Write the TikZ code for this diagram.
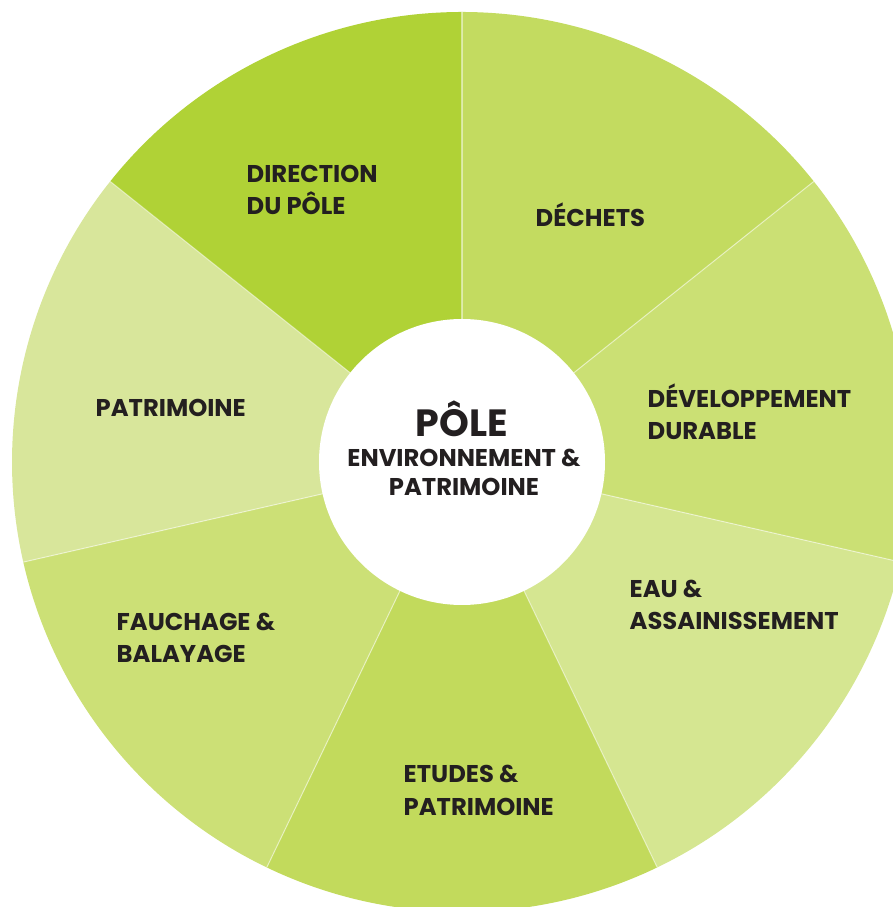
\documentclass[tikz,border=0pt]{standalone}
\usepackage{fontspec}
\setmainfont{Poppins}
\usepackage{tikz}
\usetikzlibrary{positioning}
\usepackage{xcolor}

\definecolor{dirgreen}{RGB}{176,210,54}
\definecolor{dechgreen}{RGB}{195,219,96}
\definecolor{devgreen}{RGB}{203,224,116}
\definecolor{eaugreen}{RGB}{213,230,145}
\definecolor{etugreen}{RGB}{194,218,92}
\definecolor{faugreen}{RGB}{204,224,118}
\definecolor{patgreen}{RGB}{216,230,155}
\definecolor{textgray}{RGB}{35,31,32}

\begin{document}
\begin{tikzpicture}[
    label/.style={anchor=base west,align=left,inner sep=0pt,text=textgray,
        font=\bfseries\fontsize{6.9}{9.2}\selectfont},
    sep/.style={white,opacity=0.5,line width=0.3pt}]
        \useasboundingbox (-4.62,-4.45) rectangle (4.31,4.62);
        % sectors, clockwise from the top
        \fill[dechgreen] (0,0) -- (90:4.5) arc[start angle=90, end angle=38.571, radius=4.5] -- cycle;
        \fill[devgreen] (0,0) -- (38.571:4.5) arc[start angle=38.571, end angle=-12.857, radius=4.5] -- cycle;
        \fill[eaugreen] (0,0) -- (-12.857:4.5) arc[start angle=-12.857, end angle=-64.286, radius=4.5] -- cycle;
        \fill[etugreen] (0,0) -- (-64.286:4.5) arc[start angle=-64.286, end angle=-115.714, radius=4.5] -- cycle;
        \fill[faugreen] (0,0) -- (-115.714:4.5) arc[start angle=-115.714, end angle=-167.143, radius=4.5] -- cycle;
        \fill[patgreen] (0,0) -- (-167.143:4.5) arc[start angle=-167.143, end angle=-218.571, radius=4.5] -- cycle;
        \fill[dirgreen] (0,0) -- (141.429:4.5) arc[start angle=141.429, end angle=90, radius=4.5] -- cycle;
        \draw[sep] (0,0) -- (90:4.5);
        \draw[sep] (0,0) -- (38.571:4.5);
        \draw[sep] (0,0) -- (-12.857:4.5);
        \draw[sep] (0,0) -- (-64.286:4.5);
        \draw[sep] (0,0) -- (-115.714:4.5);
        \draw[sep] (0,0) -- (-167.143:4.5);
        \draw[sep] (0,0) -- (141.429:4.5);
        \fill[white] (0,0) circle (1.43);

        % labels (base = last line)
        \node[label] (direction) at (-2.16,2.47) {DIRECTION\\DU PÔLE};
        \node[label] (dechets) at (0.73,2.35) {DÉCHETS};
        \node[label] (devdurable) at (1.85,0.22) {DÉVELOPPEMENT\\DURABLE};
        \node[label] (eau) at (1.67,-1.68) {EAU \&\\ASSAINISSEMENT};
        \node[label] (etudes) at (-0.59,-3.53) {ETUDES \&\\PATRIMOINE};
        \node[label] (fauchage) at (-3.46,-2.01) {FAUCHAGE \&\\BALAYAGE};
        \node[label] (patrimoine) at (-3.67,0.45) {PATRIMOINE};

        \node[anchor=base,inner sep=0pt,text=textgray,
            font=\bfseries\fontsize{10.8}{12}\selectfont] (pole) at (0.0,0.25) {PÔLE};
        \node[anchor=base,align=center,inner sep=0pt,text=textgray,
            font=\bfseries\fontsize{6.9}{8.3}\selectfont] (polesub) at (0.02,-0.34) {ENVIRONNEMENT \&\\PATRIMOINE};
    \end{tikzpicture}
\end{document}
